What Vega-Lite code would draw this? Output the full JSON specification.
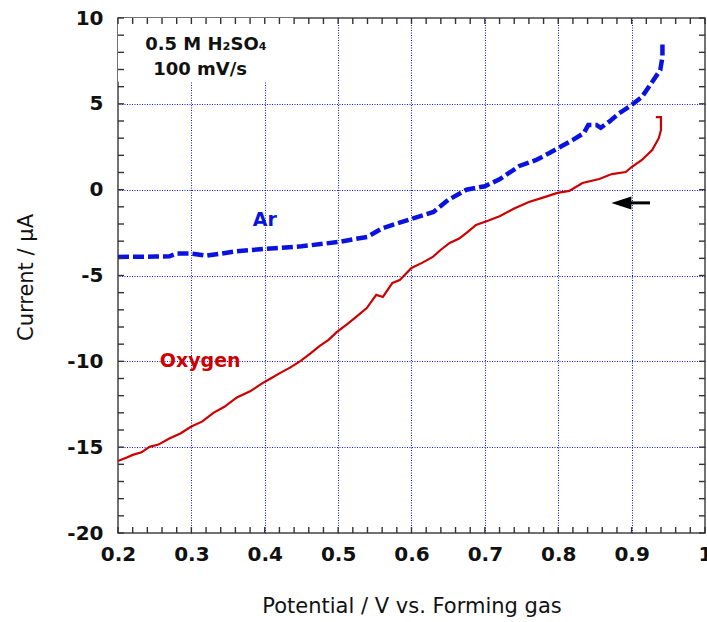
{
  "$schema": "https://vega.github.io/schema/vega-lite/v6.json",
  "width": 587,
  "height": 515,
  "autosize": {"type": "none"},
  "padding": {"left": 118, "top": 18, "right": 2, "bottom": 89},
  "background": "white",
  "config": {
    "view": {"stroke": "#444444", "strokeWidth": 1.5},
    "font": "DejaVu Sans",
    "axis": {"labelFont": "DejaVu Sans", "titleFont": "DejaVu Sans", "domain": false}
  },
  "datasets": {
    "xticks": [{"v": 0.2}, {"v": 0.22}, {"v": 0.24}, {"v": 0.26}, {"v": 0.28}, {"v": 0.3}, {"v": 0.32}, {"v": 0.34}, {"v": 0.36}, {"v": 0.38}, {"v": 0.4}, {"v": 0.42}, {"v": 0.44}, {"v": 0.46}, {"v": 0.48}, {"v": 0.5}, {"v": 0.52}, {"v": 0.54}, {"v": 0.56}, {"v": 0.58}, {"v": 0.6}, {"v": 0.62}, {"v": 0.64}, {"v": 0.66}, {"v": 0.68}, {"v": 0.7}, {"v": 0.72}, {"v": 0.74}, {"v": 0.76}, {"v": 0.78}, {"v": 0.8}, {"v": 0.82}, {"v": 0.84}, {"v": 0.86}, {"v": 0.88}, {"v": 0.9}, {"v": 0.92}, {"v": 0.94}, {"v": 0.96}, {"v": 0.98}, {"v": 1}],
    "yticks": [{"v": -20}, {"v": -19}, {"v": -18}, {"v": -17}, {"v": -16}, {"v": -15}, {"v": -14}, {"v": -13}, {"v": -12}, {"v": -11}, {"v": -10}, {"v": -9}, {"v": -8}, {"v": -7}, {"v": -6}, {"v": -5}, {"v": -4}, {"v": -3}, {"v": -2}, {"v": -1}, {"v": 0}, {"v": 1}, {"v": 2}, {"v": 3}, {"v": 4}, {"v": 5}, {"v": 6}, {"v": 7}, {"v": 8}, {"v": 9}, {"v": 10}]
  },
  "resolve": {"axis": {"x": "independent", "y": "independent"}},
  "layer": [
    {
      "data": {"values": [{"x0": 0.2, "x1": 0.44, "y0": 6.3, "y1": 10}]},
      "mark": {"type": "rect", "color": "white"},
      "encoding": {
        "x": {"field": "x0", "type": "quantitative", "scale": {"domain": [0.2, 1], "nice": false, "zero": false},
          "axis": {"orient": "top", "values": [0.3, 0.4, 0.5, 0.6, 0.7, 0.8, 0.9], "grid": true, "ticks": false, "labels": false, "title": null,
            "gridColor": "#1010ff", "gridDash": [1, 1.5], "gridWidth": 1, "zindex": 0}},
        "x2": {"field": "x1"},
        "y": {"field": "y0", "type": "quantitative", "scale": {"domain": [-20, 10], "nice": false, "zero": false},
          "axis": {"orient": "right", "values": [-15, -10, -5, 0, 5], "grid": true, "ticks": false, "labels": false, "title": null,
            "gridColor": "#1010ff", "gridDash": [1, 1.5], "gridWidth": 1, "zindex": 0}},
        "y2": {"field": "y1"}
      }
    },
    {
      "data": {"values": [
        {"x": 0.2, "y": -3.92}, {"x": 0.25, "y": -3.9}, {"x": 0.27, "y": -3.88}, {"x": 0.28, "y": -3.72},
        {"x": 0.3, "y": -3.72}, {"x": 0.32, "y": -3.85}, {"x": 0.36, "y": -3.6}, {"x": 0.4, "y": -3.45},
        {"x": 0.45, "y": -3.3}, {"x": 0.5, "y": -3.05}, {"x": 0.54, "y": -2.75}, {"x": 0.56, "y": -2.25},
        {"x": 0.6, "y": -1.7}, {"x": 0.63, "y": -1.3}, {"x": 0.65, "y": -0.6}, {"x": 0.675, "y": 0.0},
        {"x": 0.7, "y": 0.2}, {"x": 0.72, "y": 0.6}, {"x": 0.747, "y": 1.38}, {"x": 0.77, "y": 1.73},
        {"x": 0.788, "y": 2.14}, {"x": 0.8, "y": 2.43}, {"x": 0.82, "y": 2.9}, {"x": 0.835, "y": 3.3},
        {"x": 0.841, "y": 3.77}, {"x": 0.852, "y": 3.77}, {"x": 0.858, "y": 3.6}, {"x": 0.869, "y": 3.95},
        {"x": 0.883, "y": 4.45}, {"x": 0.9, "y": 4.93}, {"x": 0.914, "y": 5.4}, {"x": 0.928, "y": 6.27},
        {"x": 0.939, "y": 6.97}, {"x": 0.942, "y": 7.73}, {"x": 0.942, "y": 8.6}
      ]},
      "mark": {"type": "line", "color": "#0a12e0", "strokeWidth": 4.5, "strokeDash": [11, 4], "strokeCap": "butt"},
      "encoding": {
        "x": {"field": "x", "type": "quantitative",
          "axis": {"orient": "bottom", "values": [0.2, 0.3, 0.4, 0.5, 0.6, 0.7, 0.8, 0.9, 1],
            "ticks": false, "grid": false,
            "labelExpr": "format(datum.value, '~g')",
            "labelPadding": 11, "labelFontSize": 20, "labelFontWeight": "bold",
            "labelColor": "#111111", "labelFlush": false, "labelOverlap": false,
            "title": "Potential / V vs. Forming gas", "titleFontSize": 21, "titleFontWeight": "normal",
            "titleColor": "#111111", "titleY": 62, "titleBaseline": "top", "zindex": 1}},
        "y": {"field": "y", "type": "quantitative",
          "axis": {"orient": "left", "values": [-20, -15, -10, -5, 0, 5, 10],
            "ticks": false, "grid": false,
            "labelPadding": 15, "labelFontSize": 20, "labelFontWeight": "bold",
            "labelColor": "#111111", "labelFlush": false, "labelOverlap": false,
            "labelExpr": "replace(datum.label, '−', '-')",
            "title": "Current / μA", "titleFontSize": 21, "titleFontWeight": "normal", "titleColor": "#111111",
            "titleX": -92, "titleY": 259, "titleBaseline": "middle", "zindex": 1}},
        "order": {"value": 0}
      }
    },
    {
      "data": {"values": [
        {"i": 1, "x": 0.2, "y": -15.8}, {"i": 2, "x": 0.212, "y": -15.6}, {"i": 3, "x": 0.22, "y": -15.45},
        {"i": 4, "x": 0.232, "y": -15.3}, {"i": 5, "x": 0.243, "y": -14.98}, {"i": 6, "x": 0.255, "y": -14.85},
        {"i": 7, "x": 0.27, "y": -14.5}, {"i": 8, "x": 0.285, "y": -14.2}, {"i": 9, "x": 0.3, "y": -13.8},
        {"i": 10, "x": 0.315, "y": -13.5}, {"i": 11, "x": 0.33, "y": -13.0}, {"i": 12, "x": 0.345, "y": -12.65},
        {"i": 13, "x": 0.362, "y": -12.1}, {"i": 14, "x": 0.38, "y": -11.75}, {"i": 15, "x": 0.397, "y": -11.27},
        {"i": 16, "x": 0.408, "y": -11.0}, {"i": 17, "x": 0.42, "y": -10.7}, {"i": 18, "x": 0.435, "y": -10.35},
        {"i": 19, "x": 0.448, "y": -10.0}, {"i": 20, "x": 0.462, "y": -9.55}, {"i": 21, "x": 0.475, "y": -9.1},
        {"i": 22, "x": 0.487, "y": -8.75}, {"i": 23, "x": 0.498, "y": -8.3}, {"i": 24, "x": 0.512, "y": -7.85},
        {"i": 25, "x": 0.525, "y": -7.4}, {"i": 26, "x": 0.539, "y": -6.9}, {"i": 27, "x": 0.552, "y": -6.13},
        {"i": 28, "x": 0.561, "y": -6.25}, {"i": 29, "x": 0.574, "y": -5.43}, {"i": 30, "x": 0.584, "y": -5.26},
        {"i": 31, "x": 0.6, "y": -4.56}, {"i": 32, "x": 0.615, "y": -4.25}, {"i": 33, "x": 0.629, "y": -3.92},
        {"i": 34, "x": 0.64, "y": -3.5}, {"i": 35, "x": 0.652, "y": -3.1}, {"i": 36, "x": 0.665, "y": -2.85},
        {"i": 37, "x": 0.675, "y": -2.52}, {"i": 38, "x": 0.688, "y": -2.05}, {"i": 39, "x": 0.705, "y": -1.8},
        {"i": 40, "x": 0.72, "y": -1.55}, {"i": 41, "x": 0.74, "y": -1.1}, {"i": 42, "x": 0.76, "y": -0.72},
        {"i": 43, "x": 0.778, "y": -0.48}, {"i": 44, "x": 0.799, "y": -0.19}, {"i": 45, "x": 0.815, "y": -0.07},
        {"i": 46, "x": 0.833, "y": 0.39}, {"i": 47, "x": 0.856, "y": 0.62}, {"i": 48, "x": 0.873, "y": 0.91},
        {"i": 49, "x": 0.892, "y": 1.03}, {"i": 50, "x": 0.9, "y": 1.32}, {"i": 51, "x": 0.914, "y": 1.73},
        {"i": 52, "x": 0.928, "y": 2.31}, {"i": 53, "x": 0.937, "y": 3.0}, {"i": 54, "x": 0.94, "y": 3.48},
        {"i": 55, "x": 0.94, "y": 4.23}, {"i": 56, "x": 0.933, "y": 4.23}
      ]},
      "mark": {"type": "line", "color": "#cc0000", "strokeWidth": 2.2},
      "encoding": {
        "x": {"field": "x", "type": "quantitative", "axis": null},
        "y": {"field": "y", "type": "quantitative", "axis": null},
        "order": {"field": "i", "type": "quantitative"}
      }
    },
    {
      "data": {"name": "xticks"},
      "mark": {"type": "tick", "orient": "vertical", "size": 6, "thickness": 1.4, "color": "#333333", "opacity": 1, "yOffset": -3},
      "encoding": {
        "x": {"field": "v", "type": "quantitative", "axis": null},
        "y": {"datum": -20, "type": "quantitative", "axis": null}
      }
    },
    {
      "data": {"name": "xticks"},
      "mark": {"type": "tick", "orient": "vertical", "size": 6, "thickness": 1.4, "color": "#333333", "opacity": 1, "yOffset": 3},
      "encoding": {
        "x": {"field": "v", "type": "quantitative", "axis": null},
        "y": {"datum": 10, "type": "quantitative", "axis": null}
      }
    },
    {
      "data": {"name": "yticks"},
      "mark": {"type": "tick", "orient": "horizontal", "size": 6, "thickness": 1.4, "color": "#333333", "opacity": 1, "xOffset": 3},
      "encoding": {
        "y": {"field": "v", "type": "quantitative", "axis": null},
        "x": {"datum": 0.2, "type": "quantitative", "axis": null}
      }
    },
    {
      "data": {"name": "yticks"},
      "mark": {"type": "tick", "orient": "horizontal", "size": 6, "thickness": 1.4, "color": "#333333", "opacity": 1, "xOffset": -3},
      "encoding": {
        "y": {"field": "v", "type": "quantitative", "axis": null},
        "x": {"datum": 1, "type": "quantitative", "axis": null}
      }
    },
    {
      "data": {"values": [
        {"x": 0.237, "y": 8.43, "t": "0.5 M H₂SO₄"},
        {"x": 0.248, "y": 6.97, "t": "100 mV/s"}
      ]},
      "mark": {"type": "text", "align": "left", "baseline": "middle", "fontSize": 18, "fontWeight": "bold", "color": "#111111"},
      "encoding": {
        "x": {"field": "x", "type": "quantitative", "axis": null},
        "y": {"field": "y", "type": "quantitative", "axis": null},
        "text": {"field": "t"}
      }
    },
    {
      "data": {"values": [
        {"x": 0.4, "y": -1.77, "t": "Ar", "c": "Ar"},
        {"x": 0.312, "y": -10.0, "t": "Oxygen", "c": "Oxygen"}
      ]},
      "mark": {"type": "text", "align": "center", "baseline": "middle", "fontSize": 19, "fontWeight": "bold"},
      "encoding": {
        "x": {"field": "x", "type": "quantitative", "axis": null},
        "y": {"field": "y", "type": "quantitative", "axis": null},
        "text": {"field": "t"},
        "color": {"field": "c", "type": "nominal", "scale": {"domain": ["Ar", "Oxygen"], "range": ["#0a12e0", "#cc0000"]}, "legend": null}
      }
    },
    {
      "data": {"values": [{"x": 0.884, "x2": 0.925, "y": -0.77}]},
      "mark": {"type": "rule", "color": "black", "strokeWidth": 3},
      "encoding": {
        "x": {"field": "x", "type": "quantitative", "axis": null},
        "x2": {"field": "x2"},
        "y": {"field": "y", "type": "quantitative", "axis": null}
      }
    },
    {
      "data": {"values": [{"x": 0.886, "y": -0.77}]},
      "mark": {"type": "point", "shape": "M1,-0.65L-1,0L1,0.65Z", "filled": true, "color": "black", "size": 400, "opacity": 1, "strokeWidth": 0},
      "encoding": {
        "x": {"field": "x", "type": "quantitative", "axis": null},
        "y": {"field": "y", "type": "quantitative", "axis": null}
      }
    }
  ]
}
